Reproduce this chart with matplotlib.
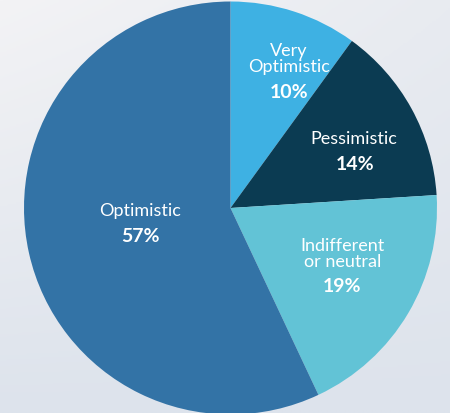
import matplotlib
matplotlib.use("Agg")
import matplotlib.pyplot as plt
import numpy as np
from matplotlib.colors import LinearSegmentedColormap

categories = ["Very\nOptimistic", "Pessimistic", "Indifferent\nor neutral", "Optimistic"]
values = [10, 14, 19, 57]
colors = ["#3eb1e3", "#0b3b52", "#62c3d6", "#3373a6"]
pct_labels = ["10%", "14%", "19%", "57%"]

W, H = 450, 413
fig = plt.figure(figsize=(W / 100, H / 100), dpi=100)

# background gradient
bg = fig.add_axes([0, 0, 1, 1])
yy, xx = np.mgrid[0:1:200j, 0:1:200j]
grad = 0.55 * yy + 0.45 * xx * (1 - yy) * 0.6
cmap = LinearSegmentedColormap.from_list("bg", ["#f3f3f5", "#dde3ec"])
bg.imshow(grad, cmap=cmap, extent=[0, 1, 0, 1], aspect="auto", origin="upper")
bg.axis("off")

cx, cy, r = 230.5, 208.0, 206.5
ax = fig.add_axes([(cx - r) / W, (H - cy - r) / H, 2 * r / W, 2 * r / H])
ax.pie(values, colors=colors, startangle=90, counterclock=False, radius=1,
       wedgeprops=dict(linewidth=0))
ax.set_xlim(-1, 1)
ax.set_ylim(-1, 1)
ax.axis("off")

def px2d(px, py):
    return (px - cx) / r, (cy - py) / r

font = "Lato"
name_pos = [(289, 59), (354, 139), (343, 254), (140, 211)]
pct_pos = [(289, 92), (355, 165), (342, 287), (140, 237)]
for name, pct, (nx, ny), (qx, qy) in zip(categories, pct_labels, name_pos, pct_pos):
    x, y = px2d(nx, ny)
    ax.text(x, y, name, ha="center", va="center", color="white", fontsize=13,
            family=font, linespacing=0.95)
    x, y = px2d(qx, qy)
    ax.text(x, y, pct, ha="center", va="center", color="white", fontsize=14,
            family=font, fontweight="bold")

fig.savefig("out.png", dpi=100)
